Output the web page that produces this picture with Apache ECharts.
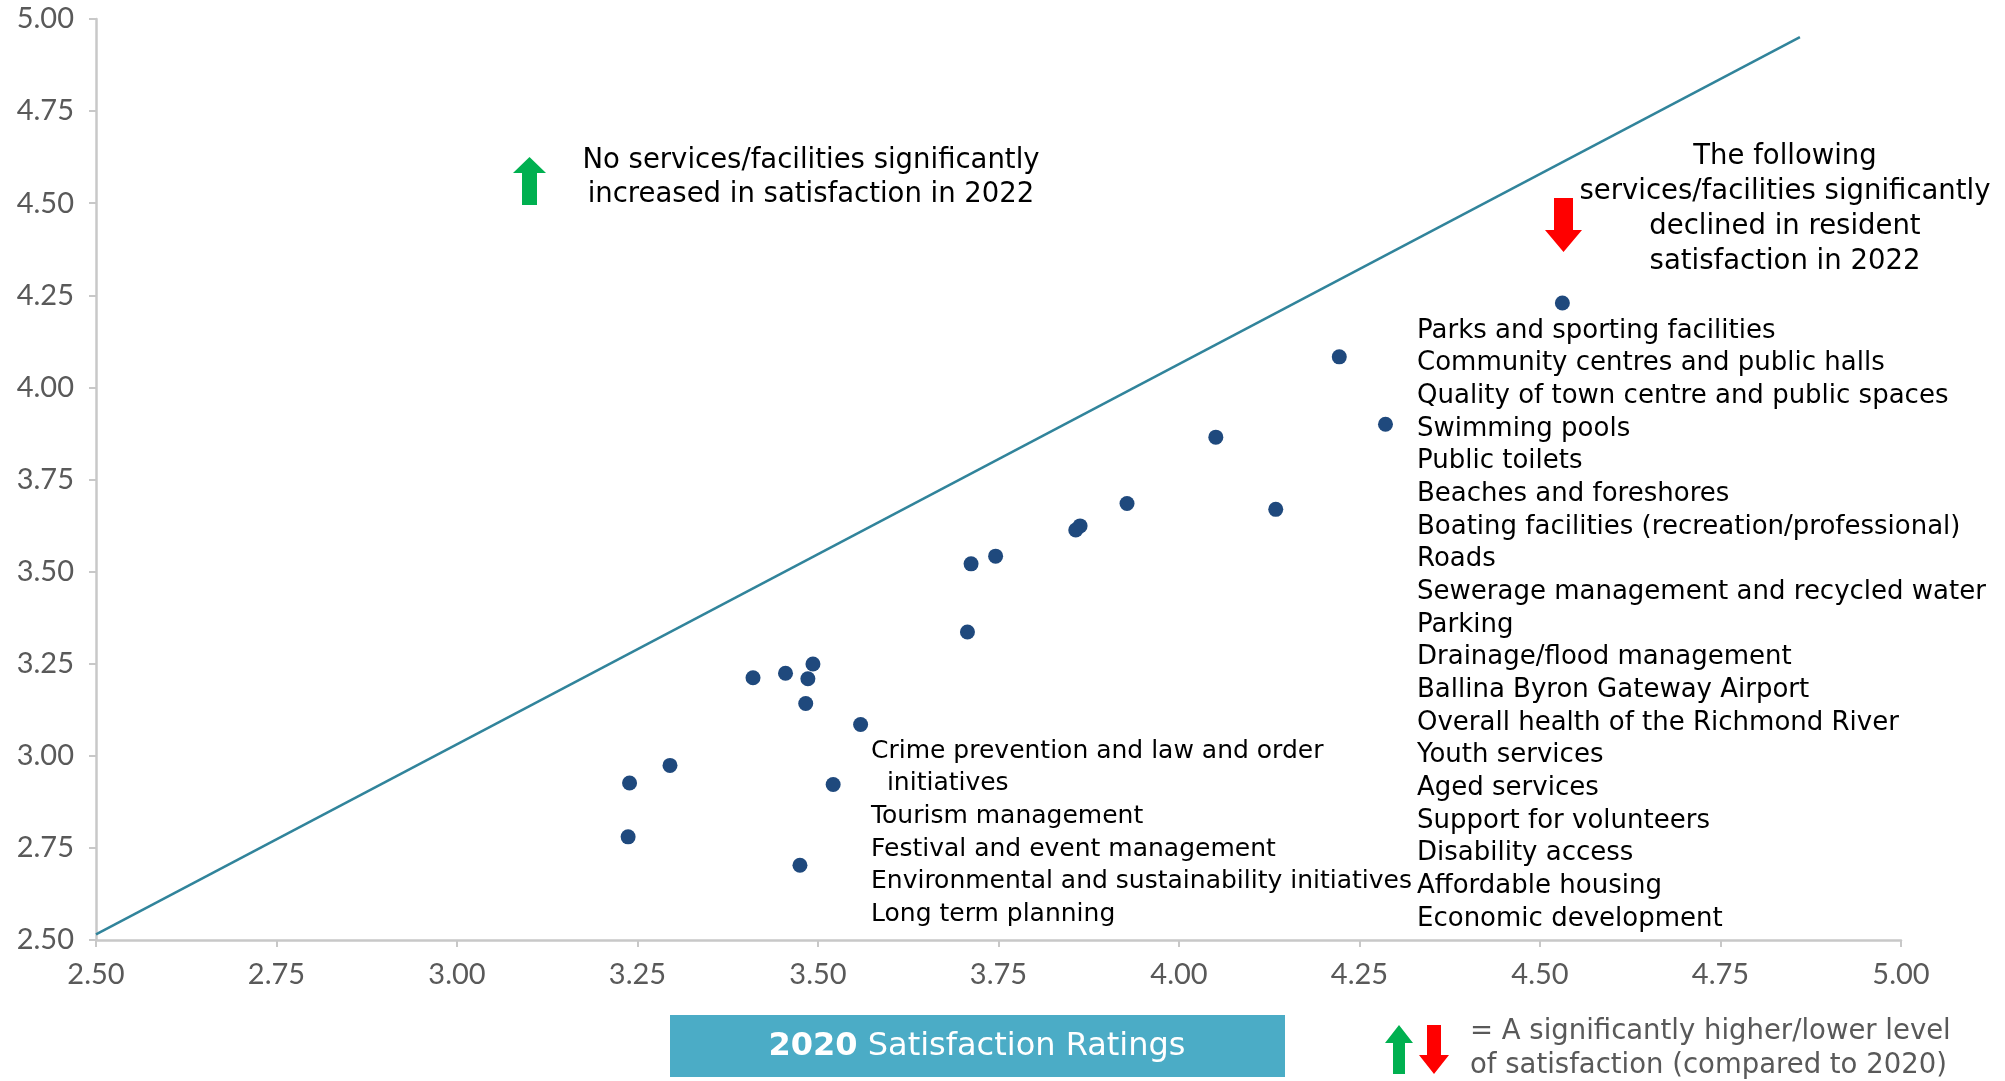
<!DOCTYPE html>
<html>
<head>
<meta charset="utf-8">
<title>Satisfaction 2020 vs 2022</title>
<script src="https://cdn.jsdelivr.net/npm/echarts@6/dist/echarts.min.js"></script>
<style>
    html, body { margin: 0; padding: 0; background: #fff; }
    #scatter { width: 2005px; height: 1081px; }
</style>
</head>
<body>
<div id="scatter"></div>
<script>
// 2020 rating (x) and 2022 rating (y) for each service
var x2020 = [4.531, 4.222, 4.286, 4.051, 3.928, 4.134, 3.863, 3.857, 3.746, 3.712, 3.707,
             3.493, 3.455, 3.486, 3.410, 3.483, 3.559, 3.295, 3.239, 3.521, 3.237, 3.475];
var y2022 = [4.229, 4.083, 3.900, 3.865, 3.685, 3.669, 3.624, 3.613, 3.542, 3.521, 3.336,
             3.249, 3.224, 3.209, 3.212, 3.142, 3.085, 2.974, 2.926, 2.922, 2.780, 2.703];

// reference line as drawn on the original
var refX = [2.5, 4.86];
var refY = [2.515, 4.951];

var axisTicks = ['2.50', '2.75', '3.00', '3.25', '3.50', '3.75', '4.00', '4.25', '4.50', '4.75', '5.00'];

var declined = [
    'Parks and sporting facilities',
    'Community centres and public halls',
    'Quality of town centre and public spaces',
    'Swimming pools',
    'Public toilets',
    'Beaches and foreshores',
    'Boating facilities (recreation/professional)',
    'Roads',
    'Sewerage management and recycled water',
    'Parking',
    'Drainage/flood management',
    'Ballina Byron Gateway Airport',
    'Overall health of the Richmond River',
    'Youth services',
    'Aged services',
    'Support for volunteers',
    'Disability access',
    'Affordable housing',
    'Economic development'
];
var declinedLow = [
    'Crime prevention and law and order',
    '  initiatives',
    'Tourism management',
    'Festival and event management',
    'Environmental and sustainability initiatives',
    'Long term planning'
];

var FONT = '"DejaVu Sans", sans-serif';

plotScatter();

function upArrow(x, top, w, h, headH, shaftW, color) {
    var cx = x + w / 2;
    return {
        type: 'polygon',
        shape: { points: [[cx, top], [x + w, top + headH], [cx + shaftW / 2, top + headH],
            [cx + shaftW / 2, top + h], [cx - shaftW / 2, top + h], [cx - shaftW / 2, top + headH], [x, top + headH]] },
        style: { fill: color }
    };
}
function downArrow(x, top, w, h, headH, shaftW, color) {
    var cx = x + w / 2;
    var b = top + h;
    return {
        type: 'polygon',
        shape: { points: [[cx - shaftW / 2, top], [cx + shaftW / 2, top], [cx + shaftW / 2, b - headH],
            [x + w, b - headH], [cx, b], [x, b - headH], [cx - shaftW / 2, b - headH]] },
        style: { fill: color }
    };
}
function textEl(x, y, str, size, color, align) {
    return {
        type: 'text', x: x, y: y,
        style: {
            text: str, fill: color || '#000',
            font: size + 'px ' + FONT,
            textAlign: align || 'left', textVerticalAlign: 'middle'
        }
    };
}

function plotScatter() {
    var myChart = echarts.init(document.getElementById('scatter'));

    var points = [];
    for (var i = 0; i < x2020.length; i++) {
        points.push([x2020[i], y2022[i]]);
    }
    var line = [];
    for (var j = 0; j < refX.length; j++) {
        line.push([refX[j], refY[j]]);
    }

    var axisCommon = {
        type: 'value', min: 2.5, max: 5, interval: 0.25,
        splitLine: { show: false },
        axisLine: { show: true, lineStyle: { color: '#c8c8c8', width: 2.5 } },
        axisTick: { show: true, length: 7, lineStyle: { color: '#c8c8c8', width: 2 } },
        axisLabel: {
            color: '#595959', fontSize: 29, fontFamily: 'Lato',
            formatter: function (v) { return axisTicks[Math.round((v - 2.5) / 0.25)]; }
        }
    };

    var graphics = [];
    // left note
    graphics.push(upArrow(513, 157, 33, 48, 16, 15, '#00b050'));
    graphics.push(textEl(811, 161, 'No services/facilities significantly', 27.5, '#000', 'center'));
    graphics.push(textEl(811, 195, 'increased in satisfaction in 2022', 27.5, '#000', 'center'));
    // right note
    graphics.push(downArrow(1545, 198, 37, 54, 22, 19, '#ff0000'));
    var notes = ['The following', 'services/facilities significantly', 'declined in resident', 'satisfaction in 2022'];
    for (var k = 0; k < notes.length; k++) {
        graphics.push(textEl(1785, 157 + k * 35, notes[k], 27.5, '#000', 'center'));
    }
    for (var m = 0; m < declined.length; m++) {
        graphics.push(textEl(1417, 331 + m * 32.67, declined[m], 26));
    }
    for (var n = 0; n < declinedLow.length; n++) {
        graphics.push(textEl(871, 751 + n * 32.67, declinedLow[n], 25));
    }
    // axis title box
    graphics.push({
        type: 'rect', shape: { x: 670, y: 1015, width: 615, height: 62 },
        style: { fill: '#4bacc6' }
    });
    graphics.push({
        type: 'text', x: 977, y: 1047,
        style: {
            text: '{b|2020} Satisfaction Ratings', fill: '#fff',
            font: '32px ' + FONT, textAlign: 'center', textVerticalAlign: 'middle',
            rich: { b: { fontWeight: 'bold', fontSize: 32, fontFamily: 'DejaVu Sans', fill: '#fff' } }
        }
    });
    // key
    graphics.push(upArrow(1385, 1025, 28, 49, 18, 12, '#00b050'));
    graphics.push(downArrow(1419, 1025, 30, 49, 19, 14, '#ff0000'));
    graphics.push(textEl(1470, 1032, '= A significantly higher/lower level', 27.5, '#595959'));
    graphics.push(textEl(1470, 1066, 'of satisfaction (compared to 2020)', 27.5, '#595959'));

    var option = {
        animation: false,
        grid: { left: 96, right: 104, top: 19, bottom: 141 },
        xAxis: echarts.util.merge({ axisLabel: { margin: 20 } }, axisCommon, true),
        yAxis: echarts.util.merge({ axisLabel: { margin: 22 } }, axisCommon, true),
        series: [{
            name: 'ref',
            type: 'line',
            data: line,
            showSymbol: false,
            lineStyle: { color: '#31849b', width: 2.5 },
            silent: true
        }, {
            name: 'services',
            type: 'scatter',
            data: points,
            symbolSize: 15,
            itemStyle: { color: '#1f497d', opacity: 1 }
        }],
        graphic: graphics
    };

    myChart.setOption(option);
}
</script>
</body>
</html>
